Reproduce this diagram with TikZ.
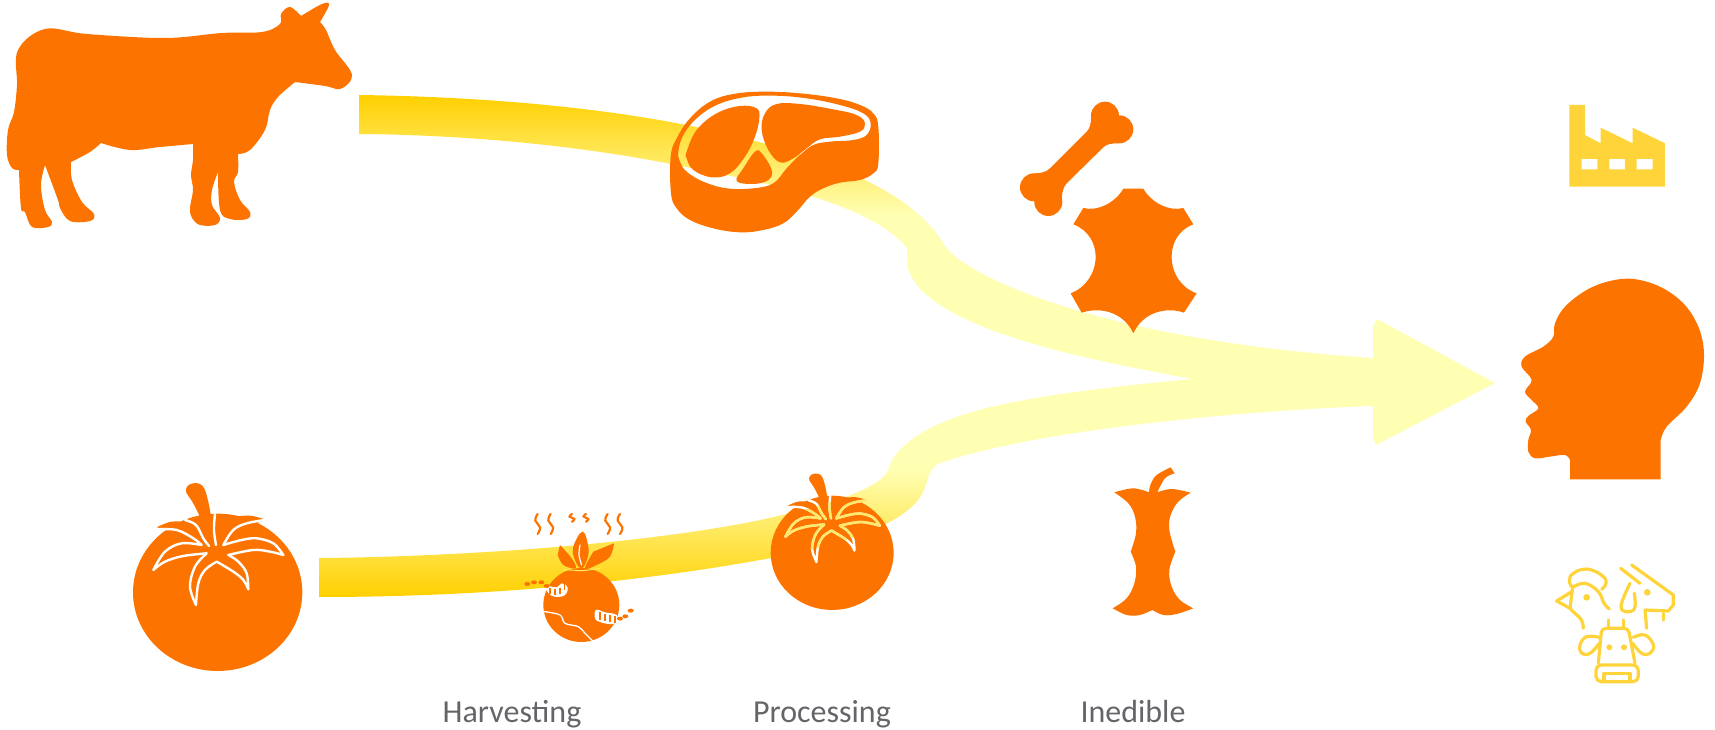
\documentclass[tikz,border=0pt]{standalone}
\usepackage{fontspec}
\setmainfont{Carlito}
\usepackage{tikz}
\usetikzlibrary{
  positioning,
  calc,
}
\definecolor{iconOrange}{HTML}{FD7300}
\definecolor{iconYellow}{HTML}{FFD43B}
\definecolor{bandDeep}{HTML}{FFD000}
\definecolor{bandPale}{HTML}{FFFFB3}
\definecolor{veinTint}{HTML}{FFE86A}
\definecolor{labelGrey}{HTML}{636569}

\pgfdeclareverticalshading{bandFlowTop}{100bp}{color(0bp)=(bandPale); color(54bp)=(bandPale); color(75bp)=(bandDeep); color(100bp)=(bandDeep)}
\pgfdeclareverticalshading{bandFlowLow}{100bp}{color(0bp)=(bandDeep); color(25bp)=(bandDeep); color(54bp)=(bandPale); color(100bp)=(bandPale)}

\tikzset{
  veinLine/.style={line width=0.24mm, line cap=round, line join=round},
  stockLine/.style={draw=iconYellow, line width=0.32mm, line cap=round, line join=round},
  stageLabel/.style={anchor=base, text=labelGrey, font=\fontsize{9.1}{10}\selectfont},
  smoothPlot/.style={smooth, tension=0.6},
}

\newcommand{\bandLowerPath}{
  (319,558) .. controls (450,557) and (640,545) .. (760,520)
  .. controls (820,507) and (880,490) .. (888,470)
  .. controls (895,445) and (930,420) .. (1000,405)
  .. controls (1060,392) and (1130,385) .. (1193,379)
  -- (1373,379) -- (1373,406)
  .. controls (1250,410) and (1030,430) .. (938,464)
  .. controls (925,472) and (930,485) .. (918,500)
  .. controls (895,530) and (820,550) .. (760,560)
  .. controls (620,585) and (470,597) .. (319,597) -- cycle
}

% tomato, in its own coordinates
\newcommand{\drawTomatoBody}{
  \fill[iconOrange] (323,367) ellipse [x radius=254, y radius=236];
  \fill[iconOrange] plot[smooth, tension=0.6] coordinates {(140,172) (185,155) (235,160) (270,190)}
    -- (250,205) -- (200,185) -- cycle;
  \fill[iconOrange] plot[smooth, tension=0.6] coordinates {(375,140) (420,137) (465,148)}
    -- (420,170) -- (380,175) -- cycle;
  \fill[iconOrange] plot[smoothPlot] coordinates {(312,230) (306,160) (296,100) (284,58) (270,42) (248,40)
    (231,50) (229,68) (245,92) (265,130) (285,180) (298,228)} -- cycle;
}
\newcommand{\drawTomatoVeins}[1]{
  \draw[veinLine, draw=#1]
    plot[smoothPlot] coordinates {(140,178) (200,180) (250,205) (275,225)}
    -- plot[smoothPlot] coordinates {(275,225) (215,220) (165,245) (130,300)}
    -- plot[smoothPlot] coordinates {(130,300) (165,275) (220,258) (290,250)}
    -- plot[smoothPlot] coordinates {(290,250) (255,290) (240,350) (258,405)}
    -- plot[smoothPlot] coordinates {(258,405) (265,340) (285,300) (320,275)}
    -- plot[smoothPlot] coordinates {(320,275) (370,305) (400,330) (415,358)}
    -- plot[smoothPlot] coordinates {(415,358) (410,310) (385,275) (355,255)}
    -- plot[smoothPlot] coordinates {(355,255) (430,240) (480,245) (520,255)}
    -- plot[smoothPlot] coordinates {(520,255) (490,220) (440,205) (395,210) (340,225)}
    -- plot[smoothPlot] coordinates {(340,225) (370,180) (410,160) (465,150)};
  \draw[veinLine, draw=#1]
    plot[smoothPlot] coordinates {(225,150) (258,165) (280,205) (297,228)};
  \draw[veinLine, draw=#1]
    plot[smoothPlot] coordinates {(315,130) (312,180) (318,225)};
}

\begin{document}
\begin{tikzpicture}[x=0.1mm, y=-0.1mm]
\useasboundingbox (0,0) rectangle (1715,730);

% flows into the arrow
\shade[shading=bandFlowTop]
  (359,95) .. controls (500,97) and (620,110) .. (710,130)
  .. controls (790,148) and (905,180) .. (943,243)
  .. controls (960,275) and (1100,340) .. (1373,358)
  -- (1373,379) -- (1193,379)
  .. controls (1100,362) and (925,330) .. (908,268)
  -- (907,248)
  .. controls (880,215) and (810,190) .. (700,170)
  .. controls (600,148) and (480,135) .. (359,134) -- cycle;
\shade[shading=bandFlowLow] \bandLowerPath;
\fill[bandPale] (1373,326) -- (1377,319) -- (1495,383) -- (1376,445) -- (1373,438) -- cycle;

% cow
\fill[iconOrange]
  plot[smoothPlot] coordinates {(301,16) (290,7) (281,14) (280,24) (262,32) (222,33) (165,38) (87,34)
    (45,29) (18,50) (17,85) (14,112) (8,130) (7,155) (12,168) (19,170)}
  -- plot[smoothPlot] coordinates {(19,170) (21,208) (25,212) (32,227) (48,227) (52,222) (45,210) (41,185) (45,165)}
  -- plot[smoothPlot] coordinates {(45,165) (58,200) (60,208) (70,221) (90,221) (94,214) (82,202) (72,180) (71,162)}
  -- plot[smoothPlot] coordinates {(71,162) (90,152) (101,143)}
  -- plot[smoothPlot] coordinates {(101,143) (130,150) (160,147) (193,144)}
  -- plot[smoothPlot] coordinates {(193,144) (193,160) (191,175) (193,190) (190,208) (192,218) (200,225)
    (215,225) (220,218) (212,205) (212,190) (218,172)}
  -- plot[smoothPlot] coordinates {(218,172) (220,210) (230,219) (247,219) (250,212) (240,200) (234,182) (238,172) (238,154)}
  -- plot[smoothPlot] coordinates {(238,154) (250,150) (265,130) (270,110) (278,97) (295,82)}
  -- plot[smoothPlot] coordinates {(295,82) (325,86) (340,89) (351,80) (350,70) (335,50) (326,30) (320,22)}
  -- plot[smoothPlot] coordinates {(320,22) (329,5) (322,4) (301,16)} -- cycle;

% steak
\begin{scope}[shift={(640,80)}, scale=0.3333]
\fill[iconOrange, even odd rule]
  plot[smooth cycle, tension=0.65] coordinates {(92,230) (110,175) (150,115) (210,65) (280,42) (370,35) (480,40)
    (590,55) (660,75) (700,100) (715,140) (715,250) (700,280) (660,300) (600,308) (550,325) (510,350)
    (470,395) (430,430) (370,450) (300,457) (220,445) (150,420) (110,385) (93,340)}
  plot[smooth cycle, tension=0.65] coordinates {(115,215) (130,165) (170,115) (230,75) (310,52) (400,47)
    (500,55) (600,75) (670,100) (692,130) (680,165) (640,180) (570,185) (520,195) (480,225) (440,265)
    (400,310) (340,325) (260,325) (190,305) (140,275) (120,245)};
\fill[iconOrange] plot[smooth cycle, tension=0.65] coordinates {(140,215) (170,150) (230,100) (300,78) (350,85)
  (358,115) (345,170) (315,230) (270,280) (215,292) (160,270) (140,235)};
\fill[iconOrange] plot[smooth cycle, tension=0.65] coordinates {(365,150) (375,100) (410,72) (480,72) (580,88)
  (650,105) (675,130) (660,155) (600,170) (540,178) (500,205) (460,235) (420,247) (385,210)};
\fill[iconOrange] plot[smooth cycle, tension=0.65] coordinates {(290,303) (310,265) (345,215) (365,220) (395,270)
  (385,300) (340,312)};
\end{scope}

% bone and hide
\begin{scope}[shift={(980,90)}, scale=0.3333]
\fill[iconOrange] (375,77) circle [radius=42] (418,118) circle [radius=42]
  (162,292) circle [radius=42] (205,336) circle [radius=42];
\fill[iconOrange] (333,85) .. controls (333,105) and (328,117) .. (320,125) -- (210,235)
  .. controls (200,245) and (185,250) .. (165,250) -- (162,292) -- (205,336) -- (245,335)
  .. controls (245,310) and (250,290) .. (260,280) -- (370,172)
  .. controls (380,162) and (395,160) .. (415,160) -- (418,118) -- (375,77) -- cycle;
\fill[iconOrange] (430,296) -- (490,296) .. controls (515,340) and (570,365) .. (610,354) -- (640,403)
  .. controls (595,420) and (575,460) .. (575,500) .. controls (575,550) and (605,595) .. (650,610)
  -- (612,668) .. controls (560,650) and (490,665) .. (460,730)
  .. controls (430,665) and (360,650) .. (305,668) -- (272,610)
  .. controls (315,595) and (347,550) .. (347,500) .. controls (347,460) and (325,420) .. (280,403)
  -- (310,354) .. controls (350,365) and (405,340) .. (430,296) -- cycle;
\end{scope}

% whole tomato
\begin{scope}[shift={(110,470)}, scale=0.3333]
\drawTomatoBody
\drawTomatoVeins{white}
\end{scope}

% spoiled tomato
\begin{scope}[shift={(510,500)}, scale=0.3333]
\foreach \sx/\sa/\sb in {83/42/102,122/42/102,186/42/65,228/42/65,293/42/102,330/42/102}
{
  \draw[iconOrange, line width=0.22mm, line cap=round]
    plot[smooth, tension=0.8] coordinates {(\sx,\sa) ($(\sx-7,\sa)!0.33!(\sx-7,\sb)$) ($(\sx+7,\sa)!0.66!(\sx+7,\sb)$) (\sx,\sb)};
}
\fill[iconOrange] (214,315) ellipse [x radius=114, y radius=111];
\fill[iconOrange] plot[smooth cycle, tension=0.7] coordinates {(190,140) (218,95) (235,140) (232,175) (215,205) (195,180)};
\fill[iconOrange] plot[smooth, tension=0.6] coordinates {(150,135) (185,175) (197,205) (160,195) (143,165)} -- cycle;
\fill[iconOrange] plot[smooth, tension=0.6] coordinates {(312,130) (300,170) (260,195) (225,205) (250,155)} -- cycle;
\draw[white, line width=0.12mm, line cap=round] plot[smooth] coordinates {(210,135) (207,165) (215,195)};
\draw[veinTint, line width=0.1mm] plot[smooth] coordinates {(160,208) (215,212) (270,205)};
\draw[white, line width=0.13mm, line cap=round]
  plot[smooth, tension=0.6] coordinates {(103,335) (150,345) (165,370) (205,380) (225,400) (250,425)};
% worms
\fill[white] plot[smooth cycle, tension=0.7] coordinates {(105,258) (140,262) (155,250) (173,262) (162,287) (125,287)};
\fill[white] plot[smooth cycle, tension=0.7] coordinates {(258,330) (285,337) (320,345) (318,368) (295,372) (268,365) (255,355)};
\foreach \wx/\wy in {120/272,135/275,150/272,163/262}
  \draw[iconOrange, line width=0.15mm] (\wx,\wy-9) -- (\wx,\wy+9);
\foreach \wx/\wy in {270/348,285/352,300/355,315/358}
  \draw[iconOrange, line width=0.15mm] (\wx,\wy-11) -- (\wx,\wy+11);
\foreach \wx/\wy in {52/252,72/247,94/247,110/258,330/356,346/349,362/332}
  \fill[iconOrange] (\wx,\wy) ellipse [x radius=9, y radius=6];
\end{scope}

% tomato on the band
\begin{scope}[shift={(754,464)}, scale=0.242]
\drawTomatoBody
\drawTomatoVeins{white}
\end{scope}
\begin{scope}
\clip \bandLowerPath;
\begin{scope}[shift={(754,464)}, scale=0.242]
\drawTomatoVeins{veinTint}
\end{scope}
\end{scope}

% apple core
\begin{scope}[shift={(1100,460)}, scale=0.3333]
\fill[iconOrange]
  plot[smoothPlot] coordinates {(43,97) (100,85) (147,97)}
  -- plot[smoothPlot] coordinates {(147,97) (152,72) (170,45) (212,22)}
  -- (224,40)
  -- plot[smoothPlot] coordinates {(224,40) (195,55) (172,97)}
  -- plot[smoothPlot] coordinates {(172,97) (215,87) (272,98)}
  -- plot[smoothPlot] coordinates {(272,98) (235,125) (212,165) (208,210) (226,275)}
  -- plot[smoothPlot] coordinates {(226,275) (208,330) (215,380) (240,420) (280,445)}
  -- plot[smoothPlot] coordinates {(280,445) (230,462) (190,465) (157,450)}
  -- plot[smoothPlot] coordinates {(157,450) (120,465) (80,465) (38,445)}
  -- plot[smoothPlot] coordinates {(38,445) (80,415) (103,370) (108,320) (92,275)}
  -- plot[smoothPlot] coordinates {(92,275) (108,220) (105,170) (85,130) (43,97)} -- cycle;
\end{scope}

% factory and head
\begin{scope}[shift={(1510,90)}, scale=0.3333]
\fill[iconYellow, even odd rule] (178,45) -- (225,45) -- (225,135) -- (272,160) -- (272,113) -- (368,160)
  -- (368,113) -- (465,160) -- (465,290) -- (178,290) -- cycle
  (215,207) rectangle (262,238)
  (298,207) rectangle (345,238)
  (380,207) rectangle (428,238);
\fill[iconOrange] (180,1168) -- (180,1110)
  -- plot[smoothPlot] coordinates {(180,1110) (165,1095) (120,1100) (75,1105) (55,1085) (55,1050) (63,1020)
    (47,995) (55,978) (85,955) (65,930) (45,905) (65,870) (35,830) (45,800) (100,770) (130,740) (135,700)
    (165,650) (230,600) (300,573) (370,567) (450,590) (520,640) (565,710) (582,790) (570,880) (530,950)
    (470,1010) (452,1050)}
  -- (452,1168) -- cycle;
\end{scope}

% farm animals
\begin{scope}[shift={(1530,550)}, scale=0.3333]
\draw[stockLine] plot[smooth, tension=0.8] coordinates {(125,110) (118,90) (130,70) (160,58) (190,62) (220,80) (228,100) (215,118)};
\draw[stockLine] plot[smooth, tension=0.7] coordinates {(128,112) (165,100) (205,125) (222,160) (238,177)};
\draw[stockLine] (125,125) -- (80,153) -- (120,175);
\draw[stockLine] (128,112) -- (120,175) .. controls (135,195) and (160,200) .. (160,235);
\fill[iconYellow] (170,142) circle [radius=10];
\draw[stockLine] (305,45) -- (430,135) -- (430,165) -- (415,183) -- (345,180) -- (350,235);
\draw[stockLine] (272,55) -- (330,100);
\draw[stockLine] plot[smooth, tension=0.7] coordinates {(300,100) (278,150) (275,178) (300,185) (315,170) (313,130)};
\draw[stockLine] (400,190) -- (400,210);
\fill[iconYellow] (352,127) circle [radius=10];
\draw[stockLine] (235,210) -- (235,235) (280,210) -- (280,235);
\draw[stockLine, rounded corners=1.2pt] (205,340) -- (215,235) -- (295,235) -- (315,340);
\draw[stockLine] plot[smooth, tension=0.7] coordinates {(207,262) (170,260) (150,285) (155,310) (180,310) (208,280)};
\draw[stockLine] plot[smooth, tension=0.7] coordinates {(310,262) (345,255) (370,285) (360,310) (335,310) (308,280)};
\fill[iconYellow] (238,292) circle [radius=9] (282,292) circle [radius=9];
\draw[stockLine, rounded corners=1.5pt] (198,345) rectangle (325,395);
\draw[stockLine] (222,390) -- (222,370) -- (300,370) -- (300,390);
\end{scope}

% stage labels
\foreach \name/\txt/\cx in {lblHarvest/Harvesting/512,lblProcess/Processing/822,lblInedible/Inedible/1133}
{
  \node[stageLabel] (\name) at (\cx,722) {\txt};
}

\end{tikzpicture}
\end{document}
